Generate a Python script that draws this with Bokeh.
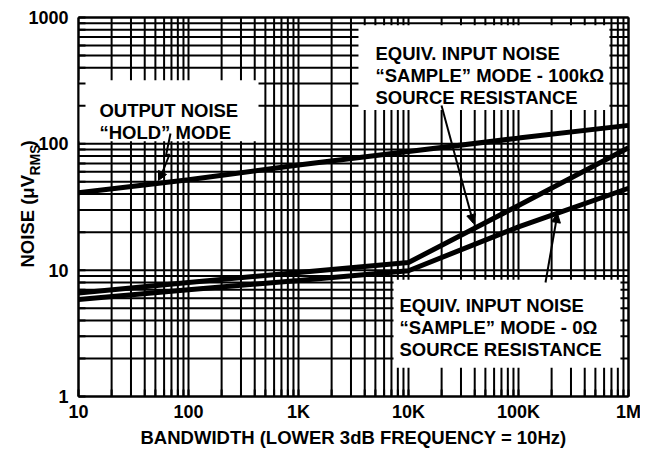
import math
from bokeh.plotting import figure
from bokeh.models import Range1d, FixedTicker, Arrow, NormalHead, ColumnDataSource
from bokeh.core.properties import value
from bokeh.embed import file_html
from bokeh.resources import INLINE

# ---- data ----
freq = [10, 100, 1000, 10000, 100000, 1000000]
hold_noise = [41, 52, 68, 87, 111, 140]          # output noise, "hold" mode
sample_100k = [6.6, 8.0, 9.6, 11.5, 32.5, 93]    # equiv. input noise, 100k source
sample_0 = [5.85, 7.0, 8.3, 9.9, 22, 44.5]       # equiv. input noise, 0 ohm source

x_ticks = [10, 100, 1000, 10000, 100000, 1000000]
x_tick_labels = ["10", "100", "1K", "10K", "100K", "1M"]
y_ticks = [1, 10, 100, 1000]
y_tick_labels = ["1", "10", "100", "1000"]
x_title = "BANDWIDTH (LOWER 3dB FREQUENCY = 10Hz)"
y_title = ["NOISE (\u03bcV", "RMS", ")"]

FONT = "Liberation Sans"
W, H = 640, 450
# plot box position on the canvas (px); the Bokeh frame covers the whole
# canvas so that tick labels and titles can be drawn as text inside it
PL, PR, PT, PB = 78, 628, 17, 396
XD = (PR - PL) / 5.0            # px per decade (x)
YD = (PB - PT) / 3.0            # px per decade (y)
x_lo = 10 ** (1 - PL / XD)
x_hi = 10 ** (6 + (W - PR) / XD)
y_hi = 10 ** (3 + PT / YD)
y_lo = 10 ** (-(H - PB) / YD)


def fx(px):   # canvas px -> data x (annotation placement only)
    return 10 ** (1 + (px - PL) / XD)


def fy(py):   # canvas px -> data y (annotation placement only)
    return 10 ** (3 - (py - PT) / YD)


p = figure(width=W, height=H, x_axis_type="log", y_axis_type="log",
           x_range=Range1d(x_lo, x_hi), y_range=Range1d(y_lo, y_hi),
           output_backend="svg", toolbar_location=None,
           min_border_left=0, min_border_right=0, min_border_top=0,
           min_border_bottom=0)
p.background_fill_color = "white"
p.border_fill_color = "white"
p.outline_line_color = None

minor_x = [m * d for d in x_ticks[:-1] for m in range(2, 10)]
minor_y = [m * d for d in y_ticks[:-1] for m in range(2, 10)]
p.xaxis.ticker = FixedTicker(ticks=x_ticks, minor_ticks=minor_x)
p.yaxis.ticker = FixedTicker(ticks=y_ticks, minor_ticks=minor_y)
p.xaxis.visible = False
p.yaxis.visible = False
p.xgrid.visible = False
p.ygrid.visible = False

all_x = sorted(x_ticks + minor_x)
all_y = sorted(y_ticks + minor_y)

# grid lines, limited to the plot box
p.segment(x0=all_x, y0=[1] * len(all_x), x1=all_x, y1=[1000] * len(all_x),
          line_color="black", line_width=2)
p.segment(x0=[10] * len(all_y), y0=all_y, x1=[1000000] * len(all_y), y1=all_y,
          line_color="black", line_width=2)

# white label boxes covering the grid
p.quad(left=[10, 3510, 7310], right=[433, 671000, 845000],
       bottom=[105, 185, 1.69], top=[319, 869, 8.38],
       fill_color="white", line_color=None)

# plot box border
p.segment(x0=[10, 10, 1000000, 10], y0=[1, 1000, 1, 1],
          x1=[10, 1000000, 1000000, 1000000], y1=[1000, 1000, 1000, 1],
          line_color="black", line_width=2)
# inward ticks
p.segment(x0=[10] * len(all_y), y0=all_y, x1=[fx(PL + 7)] * len(all_y), y1=all_y,
          line_color="black", line_width=2)
p.segment(x0=all_x, y0=[1] * len(all_x), x1=all_x, y1=[fy(PB - 7)] * len(all_x),
          line_color="black", line_width=2)

# curves
p.line(freq, hold_noise, line_width=5, color="black")
p.line(freq, sample_100k, line_width=5, color="black")
p.line(freq, sample_0, line_width=5, color="black")

# tick labels
p.text(x=[fx(PL - 10)] * len(y_ticks), y=y_ticks, text=y_tick_labels,
       text_font=value(FONT), text_font_style="bold", text_font_size="18px",
       text_color="black", text_align="right", text_baseline="middle")
p.text(x=x_ticks, y=[fy(PB + 15)] * len(x_ticks), text=x_tick_labels,
       text_font=value(FONT), text_font_style="bold", text_font_size="18px",
       text_color="black", text_align="center", text_baseline="middle")

# axis titles
p.text(x=[fx((PL + PR) / 2)], y=[fy(437)], text=[x_title],
       text_font=value(FONT), text_font_style="bold", text_font_size="18.5px",
       text_color="black", text_align="center", text_baseline="middle")
p.text(x=[fx(27), fx(34), fx(27)], y=[fy(267), fy(175), fy(146)],
       text=y_title, angle=math.pi / 2,
       text_font=value(FONT), text_font_style="bold",
       text_font_size=["18.5px", "14px", "18.5px"],
       text_color="black", text_align="left", text_baseline="alphabetic")

# annotation texts
txt = ColumnDataSource(dict(
    x=[15.5, 15.5, 5010, 5010, 5010, 8280, 8280, 8280],
    y=[185, 124, 522, 350, 234, 5.22, 3.5, 2.34],
    text=["OUTPUT NOISE", "\u201cHOLD\u201d MODE",
          "EQUIV. INPUT NOISE", "\u201cSAMPLE\u201d MODE - 100k\u03a9", "SOURCE RESISTANCE",
          "EQUIV. INPUT NOISE", "\u201cSAMPLE\u201d MODE - 0\u03a9", "SOURCE RESISTANCE"],
))
p.text(x="x", y="y", text="text", source=txt, text_font=value(FONT),
       text_font_style="bold", text_font_size="18.5px", text_color="black",
       text_align="left", text_baseline="alphabetic")

# leader lines with arrow heads
p.line(x=[fx(170), fx(165.5), fx(169), fx(161)], y=[fy(133), fy(155), fy(154), fy(174)],
       line_color="black", line_width=2)
for xs, ys, xe, ye in [(fx(161), fy(174), fx(158), fy(180)),
                       (fx(441), fy(105), fx(473), fy(223)),
                       (fx(545), fy(282), fx(557), fy(213))]:
    p.add_layout(Arrow(end=NormalHead(size=9, fill_color="black", line_color="black", line_width=1),
                       x_start=xs, y_start=ys, x_end=xe, y_end=ye,
                       line_width=2, line_color="black"))

open("out.html", "w").write(file_html(p, INLINE))
